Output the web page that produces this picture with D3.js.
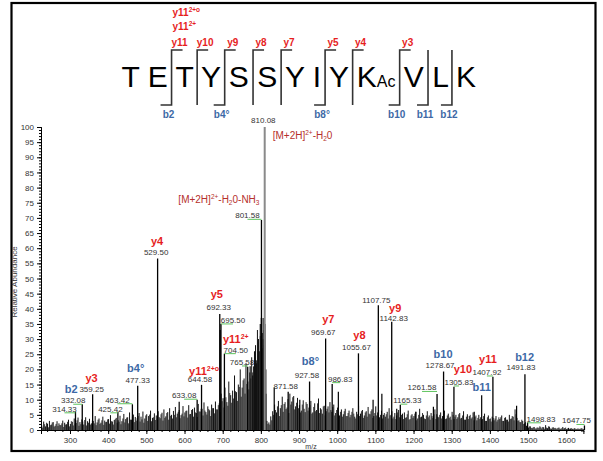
<!DOCTYPE html>
<html><head><meta charset="utf-8">
<script src="https://cdn.jsdelivr.net/npm/d3@7"></script>
<style>
body{margin:0;background:#fff}
svg{display:block;font-family:"Liberation Sans",Arial,sans-serif}
</style>
</head><body>
<svg id="c" width="603" height="461"></svg>
<script>
// ---------------- DATA ----------------
const residues = ["T","E","T","Y","S","S","Y","I","Y","K","V","L","K"];
const modResidueIndex = 9;           // K carries "Ac"
const modText = "Ac";
const yIonSites = [2,3,4,5,6,8,9,10];       // cleavage after residue n -> y(13-n)
const bIonSites = [2,4,8,10,11,12];
const bIonNames = ["b2","b4°","b8°","b10","b11","b12"];
const extraY11 = [["y11","2+"],["y11","2+o"]];

const xTicks = [300,400,500,600,700,800,900,1000,1100,1200,1300,1400,1500,1600];
const yTicks = [0,5,10,15,20,25,30,35,40,45,50,55,60,65,70,75,80,85,90,95,100];

// labelled peaks (m/z, relative abundance %)
const peakMz  = [314.33,332.08,359.25,425.42,463.42,477.33,529.50,633.08,644.58,692.33,695.50,704.50,765.58,801.58,810.08,871.58,927.58,969.67,986.83,1055.67,1107.75,1142.83,1165.33,1261.58,1278.67,1305.83,1407.92,1491.83,1498.83,1647.75];
const peakInt = [6.0,8.5,11.8,6.0,8.5,14.6,56.6,10.0,14.9,38.3,35.0,25.2,20.9,69.3,100,12.6,16.0,30.2,15.2,25.3,41.2,35.7,8.3,11.9,19.3,14.3,17.6,18.4,2.5,1.5];

// other visible unlabelled peaks
const minorMz  = [586,693.5,835,902,1003,1094,1117,1156,1206,1252,1359,1378.5,1470];
const minorInt = [9.3,33,14,10,12.6,10,12,7,6,7.7,6,11.5,8];

// precursor cluster
const clusterMz  = [772,778.5,783.5,788.5,793.5,798.5,803.5,806,808.5,813];
const clusterInt = [21,18,26,22,30,35,32,37,28,12];

// background noise, two interleaved samplings every 5 m/z (starting 226 and 228.5)
const noiseStart = 226, noise2Start = 228.5, noiseStep = 5;
const noiseInt = [
1.5,2.8,1.2,2.1,3.0,1.8,2.6,1.4,2.9,2.2,
1.6,3.1,2.4,1.9,3.4,2.0,2.7,3.8,2.3,4.1,
2.6,3.5,1.8,4.2,2.9,3.7,2.2,3.0,4.6,2.5,
3.8,2.4,4.4,3.1,2.7,3.6,4.9,2.8,3.3,4.0,
3.2,4.7,2.9,5.3,3.6,4.2,5.8,3.4,5.1,4.3,
3.9,5.6,4.4,6.1,3.8,5.2,4.6,6.4,4.0,5.5,
4.8,6.2,3.9,5.7,6.8,4.5,5.9,7.2,5.0,6.3,
7.6,5.4,6.6,4.9,7.9,5.8,6.4,8.2,5.3,6.9,
7.4,5.6,8.6,6.1,7.0,9.1,5.9,7.8,6.5,8.4,
7.2,9.4,6.8,8.8,12,10.5,14,9.2,16,11.5,
13,18,12.5,15,20,14,17,22,16,19,
24,21,28,33,26,37,30,35,3,2.5,
4.5,6.2,8.4,5.8,9.6,7.2,11,8.6,6.9,10.2,
12,9.4,11.2,7.8,10.6,8.2,6.4,9.8,5.9,8.6,
7.4,9.6,5.8,8.8,6.6,10.4,7.2,5.4,8.0,6.2,
7.8,9.2,6.0,8.4,5.6,7.4,4.8,6.8,5.2,7.0,
4.6,6.4,5.0,7.2,4.4,6.0,8.0,5.4,6.6,4.8,
6.2,7.6,5.2,6.8,4.6,7.8,5.8,4.2,6.4,5.0,
4.4,6.0,7.2,5.0,3.8,5.6,4.8,6.6,4.0,5.4,
5.8,4.2,6.4,3.6,5.2,4.6,6.0,3.8,7.0,4.4,
5.0,3.6,6.2,4.8,5.6,4.0,6.8,5.2,4.2,5.8,
4.6,6.4,3.8,5.4,4.4,6.0,3.6,5.0,4.2,5.6,
4.0,6.2,3.4,5.2,4.6,3.8,5.8,4.4,3.2,5.0,
4.2,3.6,5.4,3.0,4.8,3.8,4.4,3.2,4.6,3.4,
3.6,4.8,3.0,4.2,3.4,5.0,3.8,4.4,6.8,4.0,
3.2,2.6,3.0,2.2,1.4,0.8,1.2,0.6,1.0,0.5,
0.8,1.2,0.5,0.9,1.6,0.6,1.1,0.4,0.9,0.7,
0.5,0.8,0.4,1.0,0.6,0.3,0.7,0.5,0.4,0.6,
0.3,0.5,0.4,0.6,0.3];
const noise2Int = [
0.8,1.9,2.4,0.9,1.6,2.5,1.1,2.0,1.3,1.7,
2.2,1.0,1.8,2.7,1.2,2.9,1.5,2.1,3.2,1.4,
1.9,2.8,3.3,1.5,2.4,1.8,3.1,2.2,1.6,3.4,
2.0,3.2,1.7,2.6,3.5,2.1,2.9,1.8,3.6,2.4,
2.7,1.9,3.8,2.5,4.1,2.2,3.4,4.4,2.6,3.1,
4.6,2.8,3.5,2.4,4.8,3.0,5.1,2.9,4.2,3.3,
3.6,4.3,5.2,3.1,4.0,5.6,3.4,4.7,3.8,5.0,
4.2,6.0,3.9,5.4,4.5,6.3,4.1,5.2,6.6,4.4,
5.8,4.3,6.1,7.0,4.8,6.4,5.1,6.9,4.6,7.2,
5.5,6.8,8.2,5.9,9.5,7.4,10.8,8.0,12.2,9.0,
10.4,12.8,9.6,14.2,11.0,16.4,12.0,15.2,13.4,17.0,
19,25,23,29,31,27,33,20,2,1.8,
3.2,5.0,6.6,7.8,4.6,8.2,6.0,9.2,7.4,5.6,
8.4,10.8,6.8,9.0,7.2,5.8,8.4,7.0,9.2,6.4,
8.2,5.4,7.6,6.2,8.8,5.6,6.8,7.8,4.8,7.0,
5.8,6.6,7.6,4.8,6.6,5.2,6.0,4.4,6.2,4.6,
5.6,4.2,6.0,5.4,3.8,5.2,4.6,6.2,4.0,5.8,
4.4,5.4,6.2,4.0,5.6,4.8,6.6,5.0,3.8,5.6,
5.2,3.8,4.8,6.2,4.4,3.6,5.8,4.2,5.0,3.6,
4.0,5.2,3.4,4.8,4.0,5.4,3.2,5.0,4.2,5.6,
3.8,4.8,4.2,3.4,4.6,5.2,3.6,4.4,5.0,3.8,
5.2,3.6,4.8,4.0,3.4,5.0,4.4,3.6,5.2,3.8,
4.8,3.4,4.4,3.6,5.0,4.2,3.2,4.8,4.0,3.6,
3.4,4.6,3.0,4.2,3.6,2.8,4.0,3.8,2.8,4.2,
4.2,3.0,4.0,3.4,2.8,3.6,4.6,3.2,5.2,3.0,
2.6,3.4,2.0,2.6,1.0,1.2,0.7,0.9,0.5,0.8,
0.6,0.9,1.0,0.4,0.8,1.2,0.5,0.8,0.6,0.4,
0.7,0.4,0.6,0.5,0.8,0.5,0.4,0.6,0.3,0.5,
0.4,0.3,0.5,0.3];

// ion annotations on the spectrum
const ionPeakMz = [332.08,359.25,477.33,529.50,644.58,692.33,704.50,927.58,969.67,1055.67,1142.83,1278.67,1305.83,1378.5,1407.92,1491.83];
const ionName   = ["b2","y3","b4°","y4","y11","y5","y11","b8°","y7","y8","y9","b10","y10","b11","y11","b12"];
const ionSup    = ["","","","","2+o","","2+","","","","","","","","",""];

// precursor annotations
const precursorMz = [801.58, 810.08];

// ---------------- LAYOUT (not data) ----------------
const labelDx = [-11,-9,-1,-7.5,-15,0,-1.5,-13,-1.5,-1,12,11.4,-5.7,-14,-1.4,-2.4,-2.6,-2.3,8,-2,-2,2,7,-15,-3.5,5,-6,-4,13.4,-8];
const labelDy = [0,-1,-2.6,0,-1.5,-3,-3.3,-1.5,-2.5,-4,-1,-1,-1.7,-1.7,-4.3,-3,-3.4,-3.3,-2.3,-3.3,-2.3,-1,-1.7,-3.5,-3.4,-1.7,-1.7,-4.3,-0.6,-2];
const ionDx = [-2,0,-2,1,4,-2,0,3.5,5,3,1.5,3,4,0,1,3.7];
const ionDy = [-10,-10,-11,-10,-7.7,-11.5,-10,-13.3,-11.7,-11,-9,-10,-11.7,-4,-12.3,-9];

const RED = "#e61e1e", BLUE = "#3d69a6", DARKRED = "#b5302c", GREEN = "#5ec45e", TXT = "#333";

const svg = d3.select("#c");

// frame
svg.append("rect").attr("x",11.5).attr("y",3).attr("width",584).attr("height",448)
  .attr("fill","none").attr("stroke","#000").attr("stroke-width",2.2);

// scales
const x = d3.scaleLinear().domain([224,1645]).range([41,583.4]);
const y = d3.scaleLinear().domain([0,100]).range([430,127]);

function sticks(cls, data, color, w){
  svg.selectAll("line."+cls).data(data).join("line").attr("class",cls)
    .attr("x1",d=>x(d.mz)).attr("x2",d=>x(d.mz)).attr("y1",y(0)).attr("y2",d=>y(d.v))
    .attr("stroke",color).attr("stroke-width",w);
}
// ---- noise ----
sticks("n2", noise2Int.map((v,i)=>({mz: noise2Start + i*noiseStep, v})), "#222", 0.9);
sticks("n", noiseInt.map((v,i)=>({mz: noiseStart + i*noiseStep, v})), "#111", 1);
sticks("c", clusterMz.map((m,i)=>({mz:m,v:clusterInt[i]})), "#111", 1.2);
sticks("m", minorMz.map((m,i)=>({mz:m,v:minorInt[i]})), "#000", 1.2);

// ---- labelled peaks ----
const peaks = peakMz.map((m,i)=>({mz:m,v:peakInt[i],dx:labelDx[i],dy:labelDy[i]}));
svg.selectAll("line.p").data(peaks).join("line").attr("class","p")
  .attr("x1",d=>x(d.mz)).attr("x2",d=>x(d.mz)).attr("y1",y(0)).attr("y2",d=>y(d.v))
  .attr("stroke",d=>d.mz===810.08?"#8a8a8a":"#000").attr("stroke-width",d=>d.mz===810.08?2:1.3);

// leaders
svg.selectAll("line.ld").data(peaks.filter(d=>Math.abs(d.dx)>4)).join("line").attr("class","ld")
  .attr("x1",d=>x(d.mz)+d.dx).attr("x2",d=>x(d.mz))
  .attr("y1",d=>y(d.v)+d.dy+1).attr("y2",d=>y(d.v)+d.dy+1)
  .attr("stroke",GREEN).attr("stroke-width",1);

svg.selectAll("text.pl").data(peaks).join("text").attr("class","pl")
  .attr("x",d=>x(d.mz)+d.dx).attr("y",d=>y(d.v)+d.dy)
  .attr("text-anchor","middle").attr("font-size",8).attr("fill",TXT)
  .text(d=>d.mz.toFixed(2));

// ---- ion annotations ----
ionPeakMz.forEach((m,i)=>{
  const pi = peakMz.indexOf(m);
  let cx, by;
  if (pi>=0){ cx = x(m)+labelDx[pi]+ionDx[i]; by = y(peakInt[pi])+labelDy[pi]+ionDy[i]; }
  else { const k = minorMz.indexOf(m); cx = x(m)+ionDx[i]; by = y(minorInt[k])+ionDy[i]; }
  const t = svg.append("text").attr("x",cx).attr("y",by).attr("text-anchor","middle")
    .attr("font-size",11).attr("font-weight","bold")
    .attr("fill", ionName[i][0]==="y"?RED:BLUE);
  t.append("tspan").text(ionName[i]);
  if (ionSup[i]) t.append("tspan").attr("font-size",7).attr("dy",-4).text(ionSup[i]);
});

// precursor annotations
(function(){
  const m1 = precursorMz[0], i1 = peakMz.indexOf(m1);
  const t1 = svg.append("text").attr("x",x(m1)-2).attr("y",y(peakInt[i1])-17)
    .attr("text-anchor","end").attr("font-size",10).attr("fill",DARKRED);
  t1.append("tspan").text("[M+2H]");
  t1.append("tspan").attr("font-size",6.5).attr("dy",-4).text("2+");
  t1.append("tspan").attr("dy",4).text("-H");
  t1.append("tspan").attr("font-size",6.5).attr("dy",2).text("2");
  t1.append("tspan").attr("dy",-2).text("0-NH");
  t1.append("tspan").attr("font-size",6.5).attr("dy",2).text("3");
  const m2 = precursorMz[1], i2 = peakMz.indexOf(m2);
  const t2 = svg.append("text").attr("x",x(m2)+8).attr("y",y(peakInt[i2])+12)
    .attr("font-size",10).attr("fill",DARKRED);
  t2.append("tspan").text("[M+2H]");
  t2.append("tspan").attr("font-size",6.5).attr("dy",-4).text("2+");
  t2.append("tspan").attr("dy",4).text("-H");
  t2.append("tspan").attr("font-size",6.5).attr("dy",2).text("2");
  t2.append("tspan").attr("dy",-2).text("0");
})();

// ---- axes ----
const yAxisMinor = d3.axisLeft(y).tickValues(d3.range(0,101,1)).tickSize(2).tickFormat("");
const yAxis = d3.axisLeft(y).tickValues(yTicks).tickSize(4).tickPadding(3);
svg.append("g").attr("transform","translate(41,0)").call(yAxisMinor);
const gy = svg.append("g").attr("transform","translate(41,0)").call(yAxis);
gy.selectAll("text").attr("font-size",8).attr("fill",TXT).attr("font-family","Liberation Sans, Arial, sans-serif");

const xAxisMinor = d3.axisBottom(x).tickValues(d3.range(240,1645,20)).tickSize(2).tickFormat("");
const xAxis = d3.axisBottom(x).tickValues(xTicks).tickSize(4).tickPadding(3).tickFormat(d3.format("d"));
svg.append("g").attr("transform","translate(0,430)").call(xAxisMinor);
const gx = svg.append("g").attr("transform","translate(0,430)").call(xAxis);
gx.selectAll("text").attr("font-size",8).attr("fill",TXT).attr("font-family","Liberation Sans, Arial, sans-serif");
svg.selectAll(".domain").attr("stroke","#000");

svg.append("text").attr("transform","translate(17,282) rotate(-90)").attr("text-anchor","middle")
  .attr("font-size",8).attr("fill",TXT).text("Relative Abundance");
svg.append("text").attr("x",311).attr("y",449).attr("text-anchor","middle")
  .attr("font-size",7).attr("fill",TXT).text("m/z");

// ---- sequence ----
const seq = svg.append("text").attr("x",121.5).attr("y",87).attr("font-size",30)
  .attr("fill","#000").style("white-space","pre");
const sepIndex = {};
let ci = 0;
residues.forEach((r,i)=>{
  seq.append("tspan").text(r); ci += 1;
  if (i===modResidueIndex){ seq.append("tspan").attr("font-size",16).text(modText); ci += modText.length; }
  if (i<residues.length-1){ sepIndex[i+1] = ci; seq.append("tspan").text(" "); ci += 1; }
});
const seqNode = seq.node();
function siteX(s){ const e = seqNode.getExtentOfChar(sepIndex[s]); return e.x + e.width/2; }
const sites = Array.from(new Set(yIonSites.concat(bIonSites))).sort((a,b)=>a-b);
const bg = svg.append("g").attr("stroke","#333").attr("stroke-width",1.6).attr("fill","none");
sites.forEach(s=>{
  const sx = siteX(s);
  let p = "";
  if (yIonSites.includes(s)) p += `M${sx+11},50 H${sx} `; else p += `M${sx},50 `;
  p += `V105`;
  if (bIonSites.includes(s)) p += ` H${sx-11}`;
  bg.append("path").attr("d",p);
});
yIonSites.forEach(s=>{
  svg.append("text").attr("x",siteX(s)+8).attr("y",45.7).attr("text-anchor","middle")
    .attr("font-size",10).attr("font-weight","bold").attr("fill",RED).text("y"+(residues.length-s));
});
bIonSites.forEach((s,i)=>{
  svg.append("text").attr("x",siteX(s)-3).attr("y",118).attr("text-anchor","middle")
    .attr("font-size",10).attr("font-weight","bold").attr("fill",BLUE).text(bIonNames[i]);
});
const y11x = siteX(yIonSites[0]) + 1;
extraY11.forEach((e,i)=>{
  const t = svg.append("text").attr("x",y11x).attr("y",i===0?30:16)
    .attr("font-size",10).attr("font-weight","bold").attr("fill",RED);
  t.append("tspan").text(e[0]);
  t.append("tspan").attr("font-size",6.5).attr("dy",-4).text(e[1]);
});
</script>
</body></html>
